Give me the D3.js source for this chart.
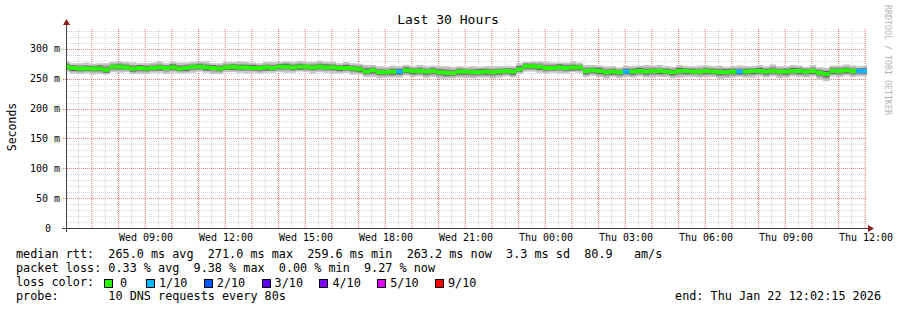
<!DOCTYPE html>
<html>
<head>
<meta charset="utf-8">
<script src="https://cdn.jsdelivr.net/npm/d3@7/dist/d3.min.js"></script>
<style>
body { margin: 0; background: #fff; }
text { font-family: "DejaVu Sans Mono", monospace; fill: #000; white-space: pre; }
</style>
</head>
<body>
<script>
var width = 897;
var height = 310;

// time range of the graph
var start = new Date(2026, 0, 21, 6, 2, 15);
var end = new Date(2026, 0, 22, 12, 2, 15);
var firstStep = new Date(2026, 0, 21, 5, 55, 0); // 15 min consolidation steps

// median rtt per step (ms)
var median = [270,268,267,267,267,267,265,270,270,269,
    267,268,267,268,269,268,269,267,268,270,
    270,269,268,267,269,270,269,269,268,268,
    269,268,270,270,269,270,270,269,270,269,
    269,268,268,267,266,262,264,261,261,262,
    262,264,263,263,262,263,261,260,259.6,262,
    262,261,261,262,261,262,263,262,266,271,
    271,270,268,268,269,268,269,269,263,264,
    263,261,262,261,262,262,263,262,263,263,
    262,261,263,263,262,262,263,262,261,261,
    262,262,262,263,263,262,263,262,262,263,
    263,262,263,260,258,263,263,264,263,263,
    263];

// smoke spread around the median (ms): outer, middle and inner bands
var outerHi = [9,8,9,10,8,9,11,8,9,9, 10,8,9,9,10,8,9,10,9,8, 9,10,8,9,9,8,10,9,9,8, 9,10,8,9,9,10,8,9,10,9,
    9,8,10,9,9,11,9,10,9,10, 9,9,8,10,9,9,10,11,10,9, 8,10,9,9,10,9,8,9,10,7, 8,9,10,9,8,9,10,8,10,9,
    9,10,9,8,10,9,9,11,9,10, 9,9,10,8,9,10,9,9,11,9, 9,10,9,8,10,9,11,9,9,10, 9,8,10,9,10,9,9,10,9,8, 9];
var outerLo = [8,9,9,8,10,9,8,9,10,8, 9,10,9,8,9,10,9,8,9,10, 8,9,10,9,8,9,9,10,8,9, 9,8,9,10,9,8,9,10,9,9,
    10,9,8,10,9,9,11,10,9,10, 10,9,10,9,11,10,11,10,9,10, 11,10,9,10,11,10,9,10,8,9, 9,10,9,8,10,9,8,9,10,9,
    10,11,9,10,9,10,9,10,11,10, 9,10,11,10,9,10,10,9,11,10, 10,9,10,11,9,10,9,11,10,9, 10,10,9,11,12,9,10,9,10,9, 9];
var midHi = [6,5,6,6,5,6,7,5,6,6, 6,5,6,6,6,5,6,6,6,5, 6,6,5,6,6,5,6,6,6,5, 6,6,5,6,6,6,5,6,6,6,
    6,5,6,6,6,7,6,6,6,6, 6,6,5,6,6,6,6,7,6,6, 5,6,6,6,6,6,5,6,6,5, 5,6,6,6,5,6,6,5,6,6,
    6,6,6,5,6,6,6,7,6,6, 6,6,6,5,6,6,6,6,7,6, 6,6,6,5,6,6,7,6,6,6, 6,5,6,6,6,6,6,6,6,5, 6];
var midLo = [5,6,6,5,6,6,5,6,6,5, 6,6,6,5,6,6,6,5,6,6, 5,6,6,6,5,6,6,6,5,6, 6,5,6,6,6,5,6,6,6,6,
    6,6,5,6,6,6,7,6,6,7, 6,6,7,6,7,7,7,7,6,7, 7,7,6,7,7,6,6,7,5,6, 6,6,6,5,6,6,5,6,7,6,
    7,7,6,7,6,7,6,7,7,7, 6,7,7,7,6,7,7,6,7,7, 7,6,7,7,6,7,6,7,7,6, 7,7,6,7,8,6,7,6,7,6, 6];
var innerHi = [4,4,3,4,4,5,4,3,4,4, 4,5,4,3,4,4,5,4,4,3, 4,4,5,4,3,4,4,4,5,4, 3,4,4,5,4,4,3,4,4,5,
    4,4,5,3,4,5,4,4,3,4, 4,5,4,4,3,4,5,4,4,4, 3,4,5,4,4,3,4,4,5,4, 4,3,4,4,5,4,4,3,4,4,
    5,4,4,3,4,4,5,4,4,3, 4,4,5,4,4,3,4,4,4,5, 4,3,4,4,5,4,4,3,4,5, 4,4,3,4,5,4,4,4,3,4, 4];
var innerLo = [4,5,4,4,3,4,5,4,4,3, 5,4,4,4,5,3,4,4,5,4, 4,5,3,4,4,5,4,3,4,4, 5,4,4,3,4,5,4,4,4,3,
    4,5,4,4,5,4,5,4,4,5, 5,4,5,4,5,4,4,5,4,5, 5,4,4,5,4,5,4,5,4,4, 4,5,4,4,3,4,5,4,5,4,
    5,4,5,4,4,5,4,5,4,5, 4,5,4,5,4,4,5,4,5,4, 4,5,4,5,4,5,4,4,5,4, 5,4,5,4,5,5,4,5,4,4, 4];

// lost pings (out of 10) per step
var loss = [0,0,0,0,0,0,0,0,0,0, 0,0,0,0,0,0,0,0,0,0, 0,0,0,0,0,0,0,0,0,0, 0,0,0,0,0,0,0,0,0,0,
    0,0,0,0,0,0,0,0,0,0, 1,0,0,0,0,0,0,0,0,0, 0,0,0,0,0,0,0,0,0,0, 0,0,0,0,0,0,0,0,0,0,
    0,0,0,0,1,0,0,0,0,0, 0,0,0,0,0,0,0,0,0,0, 0,1,0,0,0,0,0,0,0,0, 0,0,0,0,0,0,0,0,0,1, 1];

var lossLabels = ["0", "1/10", "2/10", "3/10", "4/10", "5/10", "9/10"];
var lossColors = ["#26ff00", "#00b8ff", "#0059ff", "#5e00ff", "#7e00ff", "#dd00ff", "#ff0000"];

var yTicks = [0, 50, 100, 150, 200, 250, 300];
var yTickLabels = ["0", "50 m", "100 m", "150 m", "200 m", "250 m", "300 m"];

var rttStats = ["265.0 ms avg", "271.0 ms max", "259.6 ms min", "263.2 ms now", "3.3 ms sd", "80.9   am/s"];
var lossStats = ["0.33 % avg", "9.38 % max", "0.00 % min", "9.27 % now"];
var probeText = "10 DNS requests every 80s";
var endText = "end: Thu Jan 22 12:02:15 2026";

var svg = d3.select("body").append("svg")
    .attr("width", width)
    .attr("height", height);

svg.append("rect").attr("width", width).attr("height", height).attr("fill", "#fff");

var x = d3.scaleTime().domain([start, end]).range([66.17, 866.17]);
var y = d3.scaleLinear().domain([0, 335]).range([228, 28]);

// grid
var grid = svg.append("g");
var halfHours = d3.timeMinute.every(30).range(start, end).filter(function(d) { return d.getMinutes() == 30; });
grid.selectAll(".vminor").data(halfHours).enter().append("line")
    .attr("x1", function(d) { return x(d); })
    .attr("x2", function(d) { return x(d); })
    .attr("y1", 228).attr("y2", 28)
    .attr("stroke", "#d0d0d0").attr("stroke-dasharray", "1,1");

var minorY = d3.range(10, 335, 10).filter(function(v) { return v % 50 != 0; });
grid.selectAll(".hminor").data(minorY).enter().append("line")
    .attr("x1", 67).attr("x2", 867)
    .attr("y1", function(d) { return Math.round(y(d)) + 0.5; })
    .attr("y2", function(d) { return Math.round(y(d)) + 0.5; })
    .attr("stroke", "#d8d8d8").attr("stroke-dasharray", "1,1");

var hours = d3.timeHour.range(start, end);
grid.selectAll(".vmajor").data(hours).enter().append("line")
    .attr("x1", function(d) { return x(d); })
    .attr("x2", function(d) { return x(d); })
    .attr("y1", 228).attr("y2", 28)
    .attr("stroke", "#e87272").attr("stroke-dasharray", "1,1");

grid.selectAll(".hmajor").data(yTicks.slice(1)).enter().append("line")
    .attr("x1", 63).attr("x2", 867)
    .attr("y1", function(d) { return Math.round(y(d)) + 0.5; })
    .attr("y2", function(d) { return Math.round(y(d)) + 0.5; })
    .attr("stroke", "#ec8282").attr("stroke-dasharray", "1,1");

// smoke + median
var steps = median.map(function(m, i) {
    var t0 = d3.timeMinute.offset(firstStep, 15 * i);
    var t1 = d3.timeMinute.offset(firstStep, 15 * (i + 1));
    return {
        x0: Math.max(x(t0), 67), x1: Math.min(x(t1), 867), med: m,
        oHi: outerHi[i], oLo: outerLo[i], mHi: midHi[i], mLo: midLo[i],
        iHi: innerHi[i], iLo: innerLo[i], loss: loss[i]
    };
});

var lossColor = d3.scaleThreshold().domain([1, 2, 3, 4, 5, 9]).range(lossColors);

function band(color, hi, lo) {
    svg.append("g").selectAll("rect").data(steps).enter().append("rect")
        .attr("x", function(d) { return d.x0; })
        .attr("width", function(d) { return d.x1 - d.x0; })
        .attr("y", function(d) { return y(d.med + d[hi]); })
        .attr("height", function(d) { return y(d.med - d[lo]) - y(d.med + d[hi]); })
        .attr("fill", color);
}
band("#c4c4c4", "oHi", "oLo");
band("#9e9e9e", "mHi", "mLo");
band("#686868", "iHi", "iLo");

svg.append("g").selectAll("rect").data(steps).enter().append("rect")
    .attr("x", function(d) { return d.x0; })
    .attr("width", function(d) { return d.x1 - d.x0; })
    .attr("y", function(d) { return y(d.med) - 2; })
    .attr("height", 4)
    .attr("fill", function(d) { return lossColor(d.loss); });

// axes
svg.append("line").attr("x1", 63).attr("x2", 868).attr("y1", 228.5).attr("y2", 228.5)
    .attr("stroke", "#404040");
svg.append("line").attr("x1", 66.5).attr("x2", 66.5).attr("y1", 232).attr("y2", 24)
    .attr("stroke", "#404040");
svg.append("line").attr("x1", 62).attr("x2", 66).attr("y1", 228.5).attr("y2", 228.5)
    .attr("stroke", "#404040");
svg.append("path").attr("d", "M66.5,19 L70,25 L63,25 Z").attr("fill", "#8c1c1c");
svg.append("path").attr("d", "M874,228.5 L868,225 L868,232 Z").attr("fill", "#8c1c1c");

// y labels
svg.append("g").selectAll("text").data(yTicks).enter().append("text")
    .attr("x", function(d) { return d == 0 ? 51 : 60; })
    .attr("y", function(d) { return y(d) + 3.5; })
    .attr("text-anchor", "end")
    .style("font-size", "10px")
    .text(function(d, i) { return yTickLabels[i]; });

// x labels every 3 hours
var labelTimes = hours.concat([d3.timeHour.floor(end)]).filter(function(d) { return d.getHours() % 3 == 0; });
labelTimes = labelTimes.filter(function(d, i) { return i == 0 || +d != +labelTimes[i - 1]; });
var fmt = d3.timeFormat("%a %H:%M");
svg.append("g").selectAll("text").data(labelTimes).enter().append("text")
    .attr("x", function(d) { return x(d) + 0.8; })
    .attr("y", 241)
    .attr("text-anchor", "middle")
    .style("font-size", "10px")
    .text(function(d) { return fmt(d); });

// title, axis label, watermark
svg.append("text").attr("x", 448).attr("y", 24).attr("text-anchor", "middle")
    .style("font-size", "13px").text("Last 30 Hours");
svg.append("text").attr("transform", "translate(16,127) rotate(-90)").attr("text-anchor", "middle")
    .style("font-size", "11.5px").text("Seconds");
svg.append("text").attr("transform", "translate(885,5) rotate(90)")
    .style("font-size", "8.3px").style("fill", "#b4b4b4").text("RRDTOOL / TOBI OETIKER");

// legend
var legend = svg.append("g").style("font-size", "11.8px");
legend.append("text").attr("x", 16).attr("y", 258).text("median rtt:  " + rttStats.join("  "));
legend.append("text").attr("x", 16).attr("y", 272).text("packet loss: " + lossStats.join("  "));
legend.append("text").attr("x", 16).attr("y", 286).text("loss color:");
legend.append("text").attr("x", 16).attr("y", 300).text("probe:       " + probeText);
legend.append("text").attr("x", 881).attr("y", 300).attr("text-anchor", "end").text(endText);

var swX = lossLabels.map(function(l, i) { return i == 0 ? 104 : 146 + (i - 1) * 57.8; });
var entries = legend.selectAll(".entry").data(lossLabels).enter().append("g");
entries.append("rect")
    .attr("x", function(d, i) { return Math.round(swX[i]) + 0.5; })
    .attr("y", 279.5).attr("width", 8).attr("height", 8)
    .attr("fill", function(d, i) { return lossColors[i]; })
    .attr("stroke", "#000");
entries.append("text")
    .attr("x", function(d, i) { return swX[i] + (i == 0 ? 16 : 13); })
    .attr("y", 287)
    .text(function(d) { return d; });
</script>
</body>
</html>
